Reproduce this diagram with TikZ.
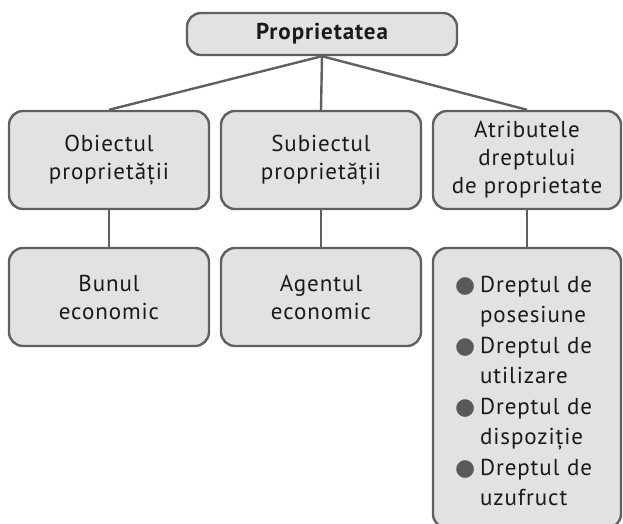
\documentclass[tikz,border=0pt]{standalone}
\usepackage{fontspec}
\setmainfont[LetterSpace=4]{PT Sans}
\newfontfamily\symf{DejaVu Sans}
\definecolor{boxfill}{HTML}{E1E2E4}
\definecolor{boxline}{HTML}{5F6062}
\definecolor{bulletc}{HTML}{58595B}
\definecolor{txt}{HTML}{1A1A1A}
\newcommand{\bul}{{\symf\color{bulletc}\fontsize{23}{23}\selectfont ●}}
\tikzset{
  box/.style={draw=boxline, fill=boxfill, line width=2.4pt, rounded corners=14pt,
    align=center, inner sep=0pt, text=txt, font=\fontsize{23}{28}\selectfont},
  link/.style={draw=boxline, line width=2.4pt}
}
\begin{document}
\begin{tikzpicture}[x=1pt,y=-1pt]
\useasboundingbox (0,0) rectangle (623,523);
\node[box, minimum width=270pt, minimum height=42pt, font=\fontsize{23}{28}\selectfont\bfseries] (top) at (322,34) {Proprietatea};
\node[box, minimum width=200pt, minimum height=98pt] (ob) at (109,160) {Obiectul\\proprietății};
\node[box, minimum width=200pt, minimum height=98pt] (sub) at (321,160) {Subiectul\\proprietății};
\node[box, minimum width=188pt, minimum height=98pt] (atr) at (527,160) {Atributele\\dreptului\\de proprietate};
\node[box, minimum width=200pt, minimum height=98pt] (bun) at (109,297) {Bunul\\economic};
\node[box, minimum width=200pt, minimum height=98pt] (ag) at (321,297) {Agentul\\economic};
\node[box, minimum width=188pt, minimum height=280pt, text width=188pt, align=left, font=\fontsize{23}{30.5}\selectfont] (dr) at (527,388)
  {\hspace*{22pt}\raisebox{-5pt}[\height][\depth]{\begin{tabular}{@{}l@{\hspace{5pt}}l@{}}
   \bul & Dreptul de\\ & posesiune\\
   \bul & Dreptul de\\ & utilizare\\
   \bul & Dreptul de\\ & dispoziție\\
   \bul & Dreptul de\\ & uzufruct
  \end{tabular}}};
\draw[link] (top.south) -- (ob.north);
\draw[link] (top.south) -- (sub.north);
\draw[link] (top.south) -- (atr.north);
\draw[link] (ob.south) -- (bun.north);
\draw[link] (sub.south) -- (ag.north);
\draw[link] (atr.south) -- (dr.north);
\end{tikzpicture}
\end{document}
